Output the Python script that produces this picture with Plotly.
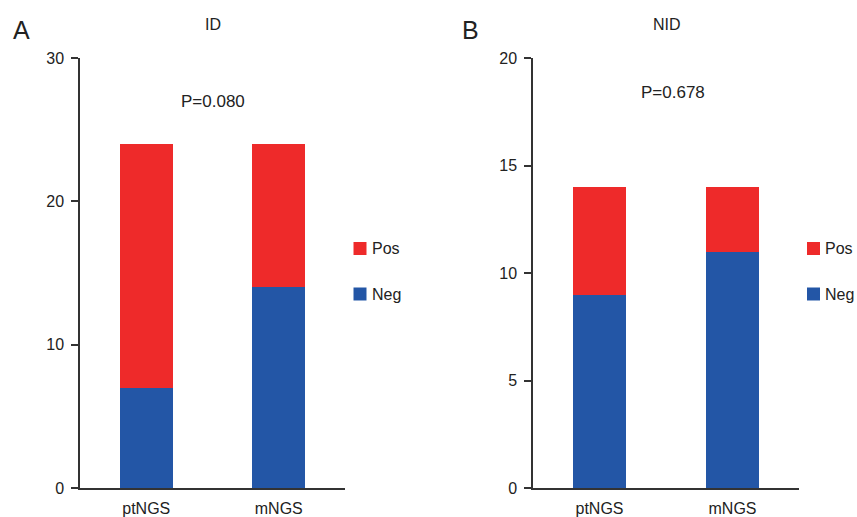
import plotly.graph_objects as go

categories = ["ptNGS", "mNGS"]
id_neg = [7, 14]
id_pos = [17, 10]
nid_neg = [9, 11]
nid_pos = [5, 3]
id_ticks = [0, 10, 20, 30]
nid_ticks = [0, 5, 10, 15, 20]
legend_labels = ["Pos", "Neg"]
p_id = "P=0.080"
p_nid = "P=0.678"

RED = "#EE2A2A"
BLUE = "#2356A6"
TXT = "#222222"
FONT = "Liberation Sans, Arial, sans-serif"
W, H = 857, 517


def px_x(p):
    return p / W


def px_y(p):
    return 1 - p / H


fig = go.Figure()
fig.add_trace(go.Bar(x=categories, y=id_neg, name="Neg", marker=dict(color=BLUE, line=dict(width=0)),
                     width=0.4, xaxis="x", yaxis="y", showlegend=False))
fig.add_trace(go.Bar(x=categories, y=id_pos, name="Pos", marker=dict(color=RED, line=dict(width=0)),
                     width=0.4, xaxis="x", yaxis="y", showlegend=False))
fig.add_trace(go.Bar(x=categories, y=nid_neg, name="Neg", marker=dict(color=BLUE, line=dict(width=0)),
                     width=0.4, xaxis="x2", yaxis="y2", showlegend=False))
fig.add_trace(go.Bar(x=categories, y=nid_pos, name="Pos", marker=dict(color=RED, line=dict(width=0)),
                     width=0.4, xaxis="x2", yaxis="y2", showlegend=False))

axis_common = dict(showline=True, linecolor="#333333", linewidth=1.5, showgrid=False, zeroline=False,
                   automargin=False, tickfont=dict(family=FONT, size=16, color=TXT))

fig.update_layout(
    width=W, height=H,
    autosize=False,
    margin=dict(l=0, r=0, t=0, b=0, pad=0, autoexpand=False),
    paper_bgcolor="white", plot_bgcolor="white",
    barmode="stack",
    font=dict(family=FONT, size=16, color=TXT),
    xaxis=dict(domain=[px_x(80), px_x(345)], range=[-0.5, 1.5], ticks="", anchor="y",
               ticklabelstandoff=5, **axis_common),
    yaxis=dict(domain=[px_y(488), px_y(58)], range=[0, 30], tickvals=id_ticks, ticks="outside",
               ticklen=7, tickcolor="#333333", tickwidth=1.5, anchor="x", ticklabelstandoff=4, **axis_common),
    xaxis2=dict(domain=[px_x(533), px_x(799)], range=[-0.5, 1.5], ticks="", anchor="y2",
                ticklabelstandoff=5, **axis_common),
    yaxis2=dict(domain=[px_y(488), px_y(58)], range=[0, 20], tickvals=nid_ticks, ticks="outside",
                ticklen=7, tickcolor="#333333", tickwidth=1.5, anchor="x2", ticklabelstandoff=4, **axis_common),
    showlegend=False,
)

annotations = [
    dict(text="A", x=px_x(21), y=px_y(30), xref="paper", yref="paper", showarrow=False,
         xanchor="center", yanchor="middle", font=dict(family=FONT, size=25, color=TXT)),
    dict(text="B", x=px_x(471), y=px_y(30), xref="paper", yref="paper", showarrow=False,
         xanchor="center", yanchor="middle", font=dict(family=FONT, size=25, color=TXT)),
    dict(text="ID", x=px_x(213), y=px_y(24), xref="paper", yref="paper", showarrow=False,
         xanchor="center", yanchor="middle", font=dict(family=FONT, size=16, color=TXT)),
    dict(text="NID", x=px_x(667), y=px_y(24), xref="paper", yref="paper", showarrow=False,
         xanchor="center", yanchor="middle", font=dict(family=FONT, size=16, color=TXT)),
    dict(text=p_id, x=0.5, y=27.0, xref="x", yref="y", showarrow=False,
         xanchor="center", yanchor="middle", font=dict(family=FONT, size=17, color=TXT)),
    dict(text=p_nid, x=0.55, y=18.4, xref="x2", yref="y2", showarrow=False,
         xanchor="center", yanchor="middle", font=dict(family=FONT, size=17, color=TXT)),
]

# manual legends (square + label) for each panel
shapes = []
legend_rows = [(legend_labels[0], RED, 248.5), (legend_labels[1], BLUE, 294)]
for sq_left in (353.5, 807):
    for label, color, cy in legend_rows:
        shapes.append(dict(type="rect", xref="paper", yref="paper",
                           x0=px_x(sq_left), x1=px_x(sq_left + 13), y0=px_y(cy - 6.5), y1=px_y(cy + 6.5),
                           fillcolor=color, line=dict(width=0)))
        annotations.append(dict(text=label, x=px_x(sq_left + 16), y=px_y(cy), xref="paper", yref="paper",
                                showarrow=False, xanchor="left", yanchor="middle",
                                font=dict(family=FONT, size=16, color=TXT)))

fig.update_layout(annotations=annotations, shapes=shapes)

post = (
    "document.documentElement.style.margin='0';"
    "document.documentElement.style.padding='0';"
    "document.documentElement.style.overflow='hidden';"
    "document.body.style.margin='0';"
    "document.body.style.padding='0';"
    "document.body.style.overflow='hidden';"
    "var gd=document.getElementById('{plot_id}');"
    "gd.style.position='fixed';gd.style.top='0px';gd.style.left='0px';"
)
fig.write_html("out.html", config={"displayModeBar": False}, post_script=post)
